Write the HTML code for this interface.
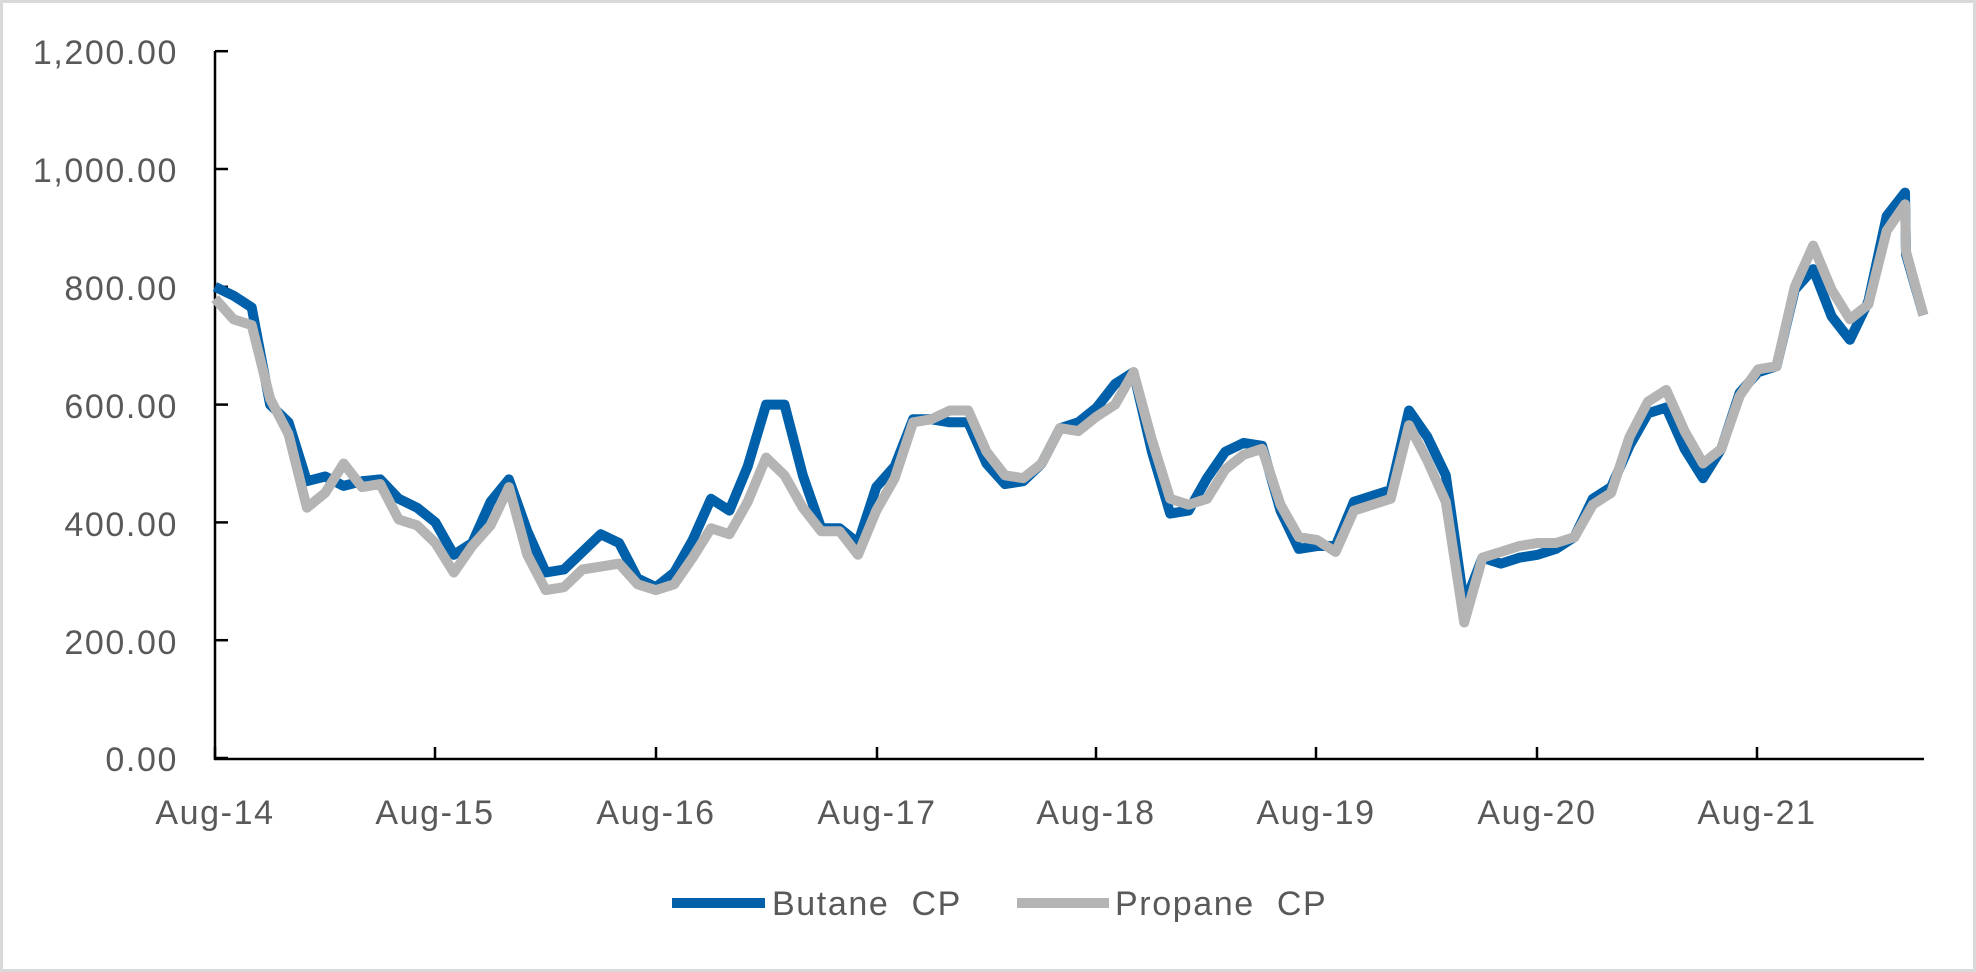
<!DOCTYPE html>
<html><head><meta charset="utf-8"><style>
html,body{margin:0;padding:0;background:#fff}
svg{display:block}
text{font-family:"Liberation Sans",sans-serif;fill:#595959;letter-spacing:1.6px}
</style></head><body>
<svg id="c" width="1976" height="972" xmlns="http://www.w3.org/2000/svg">
<rect x="1.5" y="1.5" width="1973" height="969" fill="#fff" stroke="#d9d9d9" stroke-width="3"/>
<g font-size="34" text-anchor="end">
<text x="178" y="64">1,200.00</text>
<text x="178" y="182">1,000.00</text>
<text x="178" y="300">800.00</text>
<text x="178" y="418">600.00</text>
<text x="178" y="536">400.00</text>
<text x="178" y="654">200.00</text>
<text x="178" y="771">0.00</text>
</g>
<g font-size="34" text-anchor="middle">
<text x="215" y="824">Aug-14</text>
<text x="435" y="824">Aug-15</text>
<text x="656" y="824">Aug-16</text>
<text x="877" y="824">Aug-17</text>
<text x="1096" y="824">Aug-18</text>
<text x="1316" y="824">Aug-19</text>
<text x="1537" y="824">Aug-20</text>
<text x="1757" y="824">Aug-21</text>
</g>
<g id="axes" stroke="#000" stroke-width="2.5" fill="none"></g>
<g id="lines" fill="none" stroke-width="10" stroke-linejoin="round" stroke-linecap="butt"></g>
<line x1="672" y1="903" x2="765" y2="903" stroke="#0060aa" stroke-width="10"/>
<text x="772" y="915" font-size="34" xml:space="preserve">Butane  CP</text>
<line x1="1017" y1="903" x2="1109" y2="903" stroke="#b4b4b4" stroke-width="10"/>
<text x="1115" y="915" font-size="34" xml:space="preserve">Propane  CP</text>
</svg>
<script>
var B=[800,785,765,600,570,470,478,462,470,473,440,425,400,345,365,435,473,385,315,320,350,380,365,305,290,315,370,440,420,495,600,600,480,390,390,365,460,495,575,575,570,570,500,465,470,500,560,570,595,635,655,520,415,420,475,520,535,530,420,355,360,360,435,445,455,590,545,480,260,340,330,340,345,355,375,440,460,530,585,595,525,475,525,620,655,665,795,830,750,710,775,920,960];
var P=[780,745,735,610,550,425,450,500,460,465,405,395,365,315,360,395,460,345,285,290,320,325,330,295,285,295,340,390,380,435,510,480,425,385,385,345,420,475,570,575,590,590,520,480,475,500,560,555,580,600,655,540,440,430,440,490,515,525,430,375,370,350,420,430,440,565,505,435,230,340,350,360,365,365,375,430,450,545,605,625,555,500,525,615,660,665,800,870,795,745,770,895,940];
function X(i){return 215+i*18.37;}
function Y(v){return 758-v*0.589;}
function pts(a,tail){var s=[];for(var i=0;i<a.length;i++)s.push(X(i).toFixed(1)+","+Y(a[i]).toFixed(1));tail.forEach(function(t){s.push(X(t[0]).toFixed(1)+","+Y(t[1]).toFixed(1));});return s.join(" ");}
var NS="http://www.w3.org/2000/svg";
function pl(p,c){var e=document.createElementNS(NS,"polyline");e.setAttribute("points",p);e.setAttribute("stroke",c);document.getElementById("lines").appendChild(e);}
pl(pts(B,[[92.05,855],[93,752]]),"#0060aa");
pl(pts(P,[[92.05,860],[93,752]]),"#b4b4b4");
var ax=document.getElementById("axes");
function ln(a,b,c,d){var e=document.createElementNS(NS,"line");e.setAttribute("x1",a);e.setAttribute("y1",b);e.setAttribute("x2",c);e.setAttribute("y2",d);ax.appendChild(e);}
ln(215,51,215,760);ln(214,759,1924,759);
for(var k=0;k<=6;k++){var y=Y(k*200);ln(215,y,228,y);}
[215,435,656,877,1096,1316,1537,1757].forEach(function(x){ln(x,747,x,759);});
</script>
</body></html>
